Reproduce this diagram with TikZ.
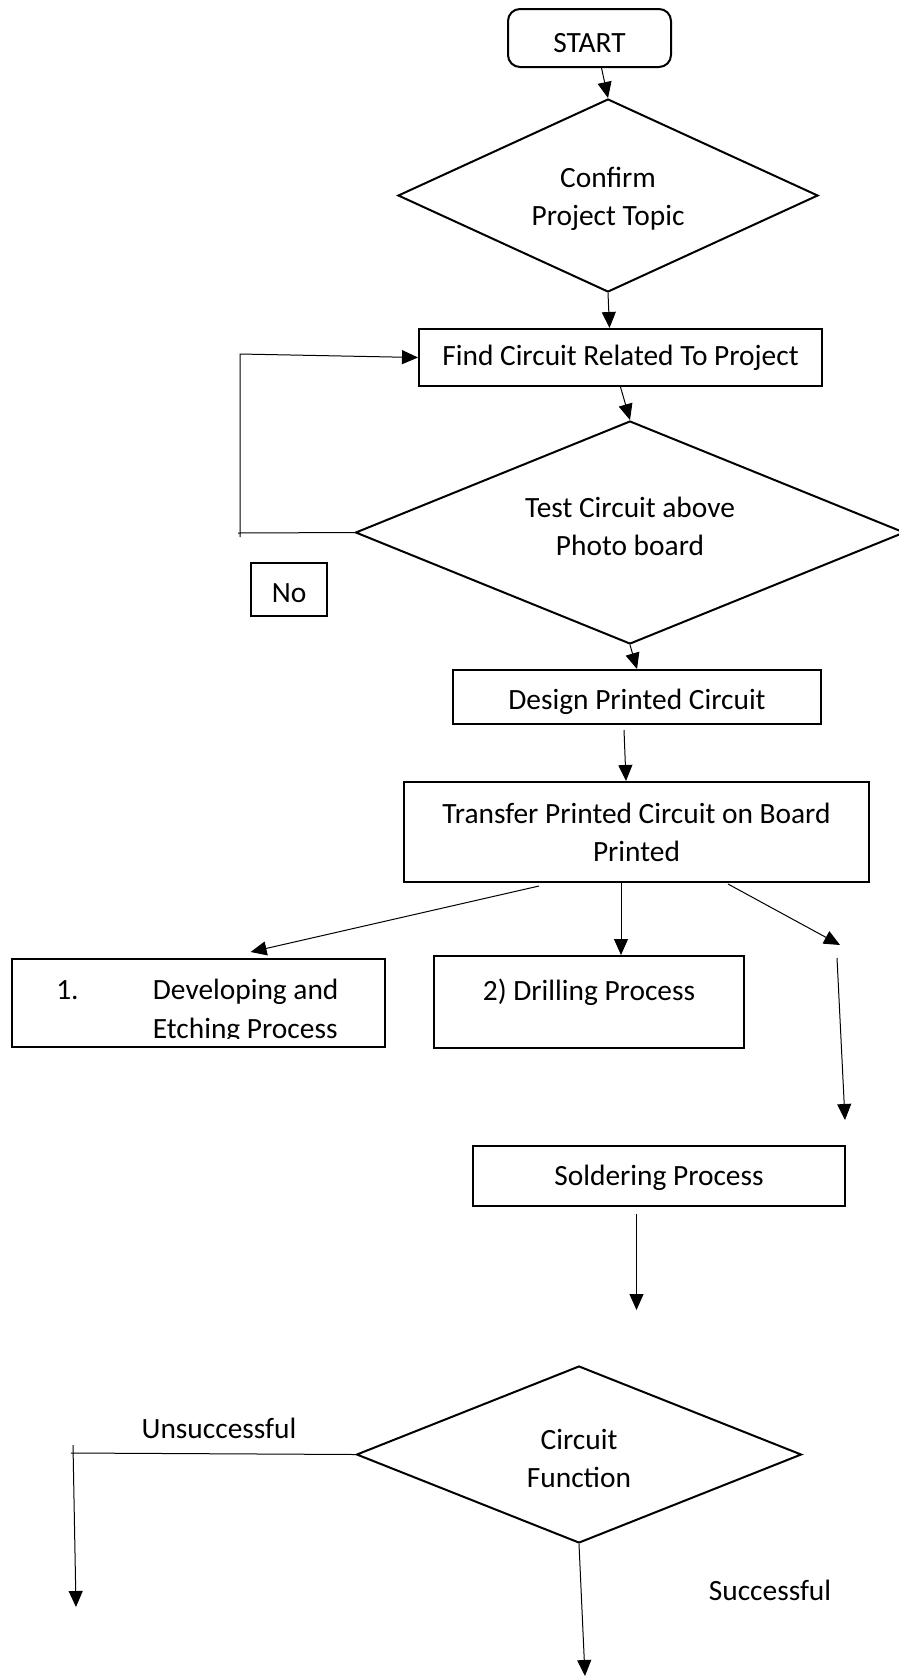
\documentclass[tikz,border=0pt]{standalone}
\usepackage{fontspec}
\setmainfont{Carlito}
\usetikzlibrary{
    arrows.meta,
    positioning,
    shapes.geometric
}
\newcommand{\chartfont}{\fontsize{14.7pt}{19pt}\selectfont}
\tikzset{
  process/.style  = {draw, line width=1pt, align=center, inner sep=2pt},
  decision/.style = {diamond, draw, line width=1pt, inner sep=0pt},
  terminal/.style = {draw, rounded corners=6pt, line width=1pt,
                     minimum width=81.5pt, minimum height=29pt},
  arr/.style      = {-{Triangle[length=8pt, width=7pt]}, line width=0.5pt},
  link/.style     = {line width=0.5pt}
}

\begin{document}
\begin{tikzpicture}[x=0.5pt, y=-0.5pt, font=\chartfont,
    tag/.style={draw, line width=0.6pt, minimum width=38pt,
                minimum height=26.5pt, inner sep=0pt},
    plain/.style={inner sep=0pt, align=center}
  ]
  \useasboundingbox (0,0) rectangle (899,1677);
  % main column
  \node[terminal, text height=14.3pt] (start) at (589.5,38) {START};
  \node[decision, minimum width=210pt, minimum height=96.5pt,
        below=15pt of start, xshift=9.25pt] (confirm) {};
  \node[process, minimum width=201.5pt, minimum height=28.5pt,
        below=17.5pt of confirm, xshift=6.25pt] (find) {Find Circuit Related To Project};
  \node[decision, minimum width=274.5pt, minimum height=111.5pt,
        below=16.5pt of find, xshift=4.75pt] (test) {};
  \node[process, minimum width=184pt, minimum height=27pt, text height=15pt,
        below=12pt of test, xshift=3.5pt] (design) {Design Printed Circuit};
  \node[process, minimum width=232.5pt, minimum height=50pt,
        below=28pt of design, xshift=-0.25pt] (transfer)
        {Transfer Printed Circuit on Board\\Printed};
  % branches
  \node[process, minimum width=186.5pt, minimum height=44pt,
        below=37.5pt of transfer, xshift=-219.25pt] (developing) {};
  \node[process, minimum width=155pt, minimum height=46pt,
        below=36pt of transfer, xshift=-23.75pt] (drilling) {};
  \node[process, minimum width=186pt, minimum height=30pt, text height=12pt,
        below=48pt of drilling, xshift=35pt] (soldering) {Soldering Process};
  \node[decision, minimum width=222.5pt, minimum height=88.5pt,
        below=79pt of soldering, xshift=-40pt] (function) {};
  % texts
  \node[plain] (confirmText) at ([yshift=-1.5pt]confirm.center) {Confirm\\Project Topic};
  \node[plain] (testText) at ([yshift=3pt]test.center) {Test Circuit above\\Photo board};
  \node[plain] (functionText) at ([yshift=-2pt]function.center) {Circuit\\Function};
  \node[plain] (drillText) at ([yshift=5pt]drilling.center) {2) Drilling Process};
  \begin{scope}
    \clip (developing.north west) rectangle ([yshift=5pt]developing.south east);
    \node[plain, anchor=base] (devNum) at ([xshift=28.5pt, yshift=-20.5pt]developing.north west) {1.};
    \node[plain, anchor=base west] (devTop) at ([xshift=71pt, yshift=-20.5pt]developing.north west) {Developing and};
    \node[plain, anchor=base west] (devBot) at ([xshift=71pt, yshift=-40pt]developing.north west) {Etching Process};
  \end{scope}
  \node[tag, text height=13.2pt] (noTag) at (289,589.5) {No};
  \node (unsucText) at (219,1428) {Unsuccessful};
  \node (sucText) at (770,1590) {Successful};
  % free ends
  \coordinate (loopBot) at (238,533);
  \coordinate (loopLow) at (240,537);
  \coordinate (loopTop) at (240,354);
  \coordinate (forkEnd) at (840,945);
  \coordinate (gapStart) at (837,958);
  \coordinate (solderEnd) at (636.5,1310);
  \coordinate (failCorner) at (71,1453);
  \coordinate (failTop) at (73,1445);
  \coordinate (failEnd) at (76,1607);
  \coordinate (passEnd) at (585,1676);
  % connectors
  \draw[arr] ([xshift=6pt]start.south) -- (confirm.north);
  \draw[arr] (confirm.south) -- ([xshift=-5.5pt]find.north);
  \draw[arr] (find.south) -- (test.north);
  \draw[link] (test.west) -- (loopBot);
  \draw[arr] (loopLow) -- (loopTop) -- (find.west);
  \draw[arr] (test.south) -- (design.north);
  \draw[arr] ([xshift=-6.5pt, yshift=-2.5pt]design.south) -- ([xshift=-5.25pt]transfer.north);
  \draw[arr] ([xshift=-48.75pt, yshift=-1.5pt]transfer.south) -- ([xshift=26.3pt, yshift=3pt]developing.north);
  \draw[arr] ([xshift=-7.75pt]transfer.south) -- ([xshift=16pt]drilling.north);
  \draw[arr] ([xshift=45.75pt, yshift=-0.5pt]transfer.south) -- (forkEnd);
  \draw[arr] (gapStart) -- ([xshift=-0.5pt, yshift=12.5pt]soldering.north east);
  \draw[arr] ([xshift=-11.25pt, yshift=-3.5pt]soldering.south) -- (solderEnd);
  \draw[link] (function.west) -- (failCorner);
  \draw[arr] (failTop) -- (failEnd);
  \draw[arr] (function.south) -- (passEnd);
\end{tikzpicture}
\end{document}
